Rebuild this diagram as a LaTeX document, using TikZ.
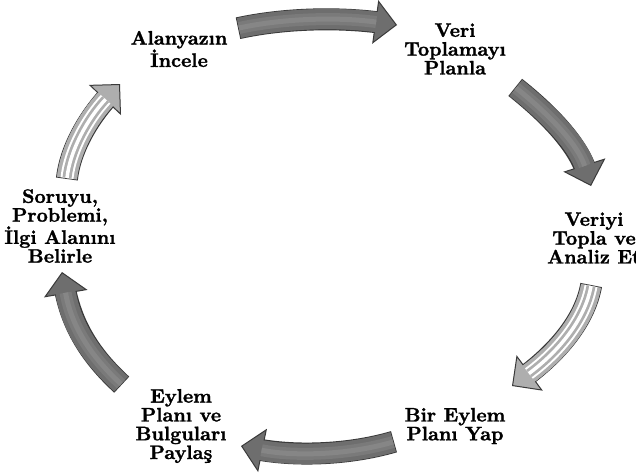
\documentclass[tikz,border=0pt]{standalone}
\usepackage{fontspec}
\newfontfamily\lblfont{lmroman10-bold.otf}[FakeBold=1.3]
\usetikzlibrary{arrows.meta}
\definecolor{outl}{HTML}{3A3A3A}
\definecolor{darkbody}{HTML}{6E6E6E}
\definecolor{darkmid}{HTML}{7A7A7A}
\definecolor{darkcore}{HTML}{868686}
\definecolor{lightbody}{HTML}{AEAEAE}
\tikzset{
  lbl/.style={align=center,inner sep=0pt,font=\lblfont\fontsize{19.5}{18.8}\selectfont},
}
\newcommand\cycDarkArrow[4]{%
  \draw[line width=22pt,outl,shorten >=14pt,shorten <=-1pt] (#1) .. controls (#2) and (#3) .. (#4);
  \draw[line width=20pt,darkbody,-{Triangle[width=44pt,length=22pt,color=outl,fill=darkbody,line width=1pt]}] (#1) .. controls (#2) and (#3) .. (#4);
  \draw[line width=20pt,darkbody,shorten >=19pt] (#1) .. controls (#2) and (#3) .. (#4);
  \draw[line width=12pt,darkmid,shorten >=21pt] (#1) .. controls (#2) and (#3) .. (#4);
  \draw[line width=5pt,darkcore,shorten >=21pt] (#1) .. controls (#2) and (#3) .. (#4);
}
\newcommand\cycPaleArrow[4]{%
  \draw[line width=22pt,outl,shorten >=14pt,shorten <=-1pt] (#1) .. controls (#2) and (#3) .. (#4);
  \draw[line width=20pt,lightbody,-{Triangle[width=44pt,length=22pt,color=outl,fill=lightbody,line width=1pt]}] (#1) .. controls (#2) and (#3) .. (#4);
  \draw[line width=20pt,lightbody,shorten >=19pt] (#1) .. controls (#2) and (#3) .. (#4);
  \draw[line width=13pt,white,shorten >=21pt] (#1) .. controls (#2) and (#3) .. (#4);
  \draw[line width=9pt,lightbody,shorten >=21pt] (#1) .. controls (#2) and (#3) .. (#4);
  \draw[line width=3.5pt,white,shorten >=21pt] (#1) .. controls (#2) and (#3) .. (#4);
}
\begin{document}
\begin{tikzpicture}[x=1pt,y=-1pt]
\useasboundingbox (0,0) rectangle (636,474);
\fill[white] (0,0) rectangle (636,474);
% text nodes
\node[lbl] (n1) at (179,49) {Alanyazın\\İncele};
\node[lbl] (n2) at (455,49) {Veri\\Toplamayı\\Planla};
\node[lbl] (n3) at (594,238) {Veriyi\\Topla ve\\Analiz Et};
\node[lbl] (n4) at (455,426) {Bir Eylem\\Planı Yap};
\node[lbl] (n5) at (181,426) {Eylem\\Planı ve\\Bulguları\\Paylaş};
\node[lbl] (n6) at (60,226) {Soruyu,\\Problemi,\\İlgi Alanını\\Belirle};
% arrow coordinates
\coordinate (s1) at (239,28);  \coordinate (p1) at (285,18);  \coordinate (q1) at (340,17);  \coordinate (t1) at (397,25);
\coordinate (s2) at (516,88);  \coordinate (p2) at (550,115); \coordinate (q2) at (578,145); \coordinate (t2) at (591,186);
\coordinate (s3) at (591,286); \coordinate (p3) at (585,320); \coordinate (q3) at (558,352); \coordinate (t3) at (512,386);
\coordinate (s4) at (393,442); \coordinate (p4) at (345,456); \coordinate (q4) at (290,456); \coordinate (t4) at (241,446);
\coordinate (s5) at (121,384); \coordinate (p5) at (95,360);  \coordinate (q5) at (72,330);  \coordinate (t5) at (62,272);
\coordinate (s6) at (67,178);  \coordinate (p6) at (70,150);  \coordinate (q6) at (88,118);  \coordinate (t6) at (120,84);
\cycDarkArrow{s1}{p1}{q1}{t1}
\cycDarkArrow{s2}{p2}{q2}{t2}
\cycPaleArrow{s3}{p3}{q3}{t3}
\cycDarkArrow{s4}{p4}{q4}{t4}
\cycDarkArrow{s5}{p5}{q5}{t5}
\cycPaleArrow{s6}{p6}{q6}{t6}
\end{tikzpicture}
\end{document}
